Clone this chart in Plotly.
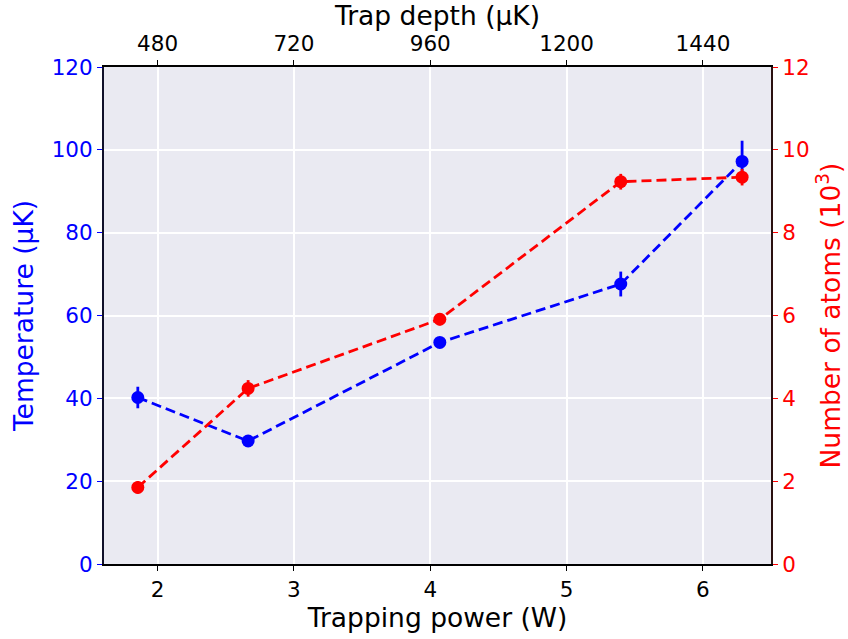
import plotly.graph_objects as go

# Measured trapping powers (W)
power = [1.855, 2.664, 4.07, 5.397, 6.287]

# Cloud temperature (µK) with uncertainty
temperature = [40.2, 29.7, 53.5, 67.6, 97.2]
temperature_err = [2.6, 1.0, 1.0, 3.0, 5.0]

# Atom number (10^3) with uncertainty
atoms = [1.85, 4.24, 5.91, 9.23, 9.34]
atoms_err = [0.15, 0.2, 0.15, 0.19, 0.2]

# Trap depth per watt of trapping power (µK/W)
depth_per_watt = 240
depth_ticks = [480, 720, 960, 1200, 1440]

x_range = [1.607, 6.499]
temp_ticks = [0, 20, 40, 60, 80, 100, 120]
atom_ticks = [0, 2, 4, 6, 8, 10, 12]

BLUE = "#0000FF"
RED = "#FF0000"
FONT = "DejaVu Sans"
TICK_SIZE = 21.5
TITLE_SIZE = 26.5

fig = go.Figure()

fig.add_trace(go.Scatter(
    x=power, y=temperature, mode="lines+markers",
    line=dict(color=BLUE, width=2.8, dash="10px,5px"),
    marker=dict(color=BLUE, size=13),
    error_y=dict(type="data", array=temperature_err, color=BLUE,
                 thickness=2.8, width=0),
    xaxis="x", yaxis="y", showlegend=False,
))

fig.add_trace(go.Scatter(
    x=power, y=atoms, mode="lines+markers",
    line=dict(color=RED, width=2.8, dash="10px,5px"),
    marker=dict(color=RED, size=13),
    error_y=dict(type="data", array=atoms_err, color=RED,
                 thickness=2.8, width=0),
    xaxis="x", yaxis="y2", showlegend=False,
))

# Invisible trace to anchor the top (trap depth) axis
fig.add_trace(go.Scatter(
    x=[p * depth_per_watt for p in power], y=temperature,
    mode="markers", marker=dict(opacity=0), hoverinfo="skip",
    xaxis="x2", yaxis="y", showlegend=False,
))

fig.update_layout(
    width=848, height=639,
    margin=dict(l=104, r=77, t=67, b=75, autoexpand=False),
    paper_bgcolor="white",
    plot_bgcolor="#EAEAF2",
    font=dict(family=FONT, color="black", size=TICK_SIZE),
    xaxis=dict(
        range=x_range, tickmode="array", tickvals=[2, 3, 4, 5, 6],
        automargin=False,
        showgrid=True, gridcolor="white", gridwidth=1.5,
        zeroline=False, showline=True, linecolor="black", linewidth=2,
        ticks="outside", ticklen=5, tickwidth=1.2, tickcolor="black",
        tickfont=dict(size=TICK_SIZE, color="black"),
        title=dict(text="Trapping power (W)", font=dict(size=TITLE_SIZE),
                   standoff=5),
    ),
    xaxis2=dict(
        overlaying="x", side="top",
        range=[v * depth_per_watt for v in x_range],
        tickmode="array", tickvals=depth_ticks, automargin=False,
        showgrid=False, zeroline=False,
        showline=True, linecolor="black", linewidth=2,
        ticks="outside", ticklen=5, tickwidth=1.2, tickcolor="black",
        tickfont=dict(size=TICK_SIZE, color="black"),
        title=dict(text="Trap depth (µK)", font=dict(size=TITLE_SIZE),
                   standoff=3),
    ),
    yaxis=dict(
        range=[0, 120], tickmode="array", tickvals=temp_ticks,
        automargin=False,
        showgrid=True, gridcolor="white", gridwidth=1.5,
        zeroline=False, showline=True, linecolor="#10102a", linewidth=2,
        ticks="outside", ticklen=5, tickwidth=1.2, tickcolor=BLUE,
        tickfont=dict(size=TICK_SIZE, color=BLUE),
        title=dict(text="Temperature (µK)",
                   font=dict(size=TITLE_SIZE, color=BLUE), standoff=10),
    ),
    yaxis2=dict(
        overlaying="y", side="right",
        range=[0, 12], tickmode="array", tickvals=atom_ticks,
        automargin=False,
        showgrid=False, zeroline=False,
        showline=True, linecolor="#2a1010", linewidth=2,
        ticks="outside", ticklen=5, tickwidth=1.2, tickcolor=RED,
        tickfont=dict(size=TICK_SIZE, color=RED),
        title=dict(text="Number of atoms (10<sup>3</sup>)",
                   font=dict(size=TITLE_SIZE, color=RED), standoff=13),
    ),
)

fig.write_html("out.html")
